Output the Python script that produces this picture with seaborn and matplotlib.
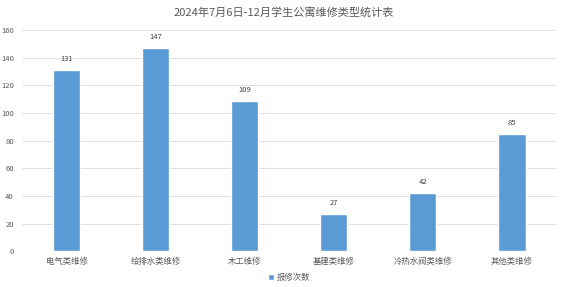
import matplotlib
matplotlib.use("Agg")
import matplotlib.pyplot as plt
import seaborn as sns
import pandas as pd

categories = ["电气类维修", "给排水类维修", "木工维修", "基建类维修", "冷热水阀类维修", "其他类维修"]
values = [131, 147, 109, 27, 42, 85]
series_name = "报修次数"
yticks = [0, 20, 40, 60, 80, 100, 120, 140, 160]
title = "2024年7月6日-12月学生公寓维修类型统计表"

sns.set_theme(style="white")
plt.rcParams['font.family'] = ['Noto Sans CJK SC', 'DejaVu Sans']

df = pd.DataFrame({"类型": categories, series_name: values})

fig = plt.figure(figsize=(5.67, 2.87), dpi=100)
ax = fig.add_axes([0.039, 0.125, 0.942, 0.77])
sns.barplot(data=df, x="类型", y=series_name, color="#5B9BD5", width=0.31,
            ax=ax, label=series_name, saturation=1)
for c in ax.containers:
    ax.bar_label(c, fontsize=5.5, color="#404040", padding=5)

ax.set_ylim(0, 160)
ax.set_yticks(yticks)
ax.set_xlim(-0.5, len(categories) - 0.5)
ax.tick_params(axis='y', labelsize=5.5, colors="#595959", length=0, pad=6)
ax.tick_params(axis='x', labelsize=6, colors="#595959", length=0, pad=4)
ax.grid(axis='y', color="#E0E0E0", linewidth=0.7)
ax.set_axisbelow(True)
for s in ax.spines.values():
    s.set_visible(False)
ax.axhline(0, color="#D0D0D0", linewidth=0.7, linestyle=(0, (1, 1)))
ax.set_xlabel("")
ax.set_ylabel("")
fig.suptitle(title, x=0.5, y=0.975, fontsize=8, color="#595959")
ax.legend(loc="center", bbox_to_anchor=(0.5, -0.118), frameon=False,
          fontsize=6, labelcolor="#595959", handlelength=0.7, handleheight=0.7,
          handletextpad=0.4)
fig.savefig("out.png", dpi=100)
